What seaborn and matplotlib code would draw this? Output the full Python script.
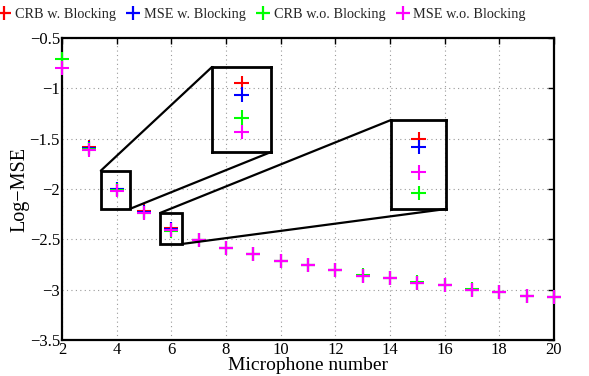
import numpy as np
import pandas as pd
import seaborn as sns
import matplotlib
matplotlib.use("Agg")
import matplotlib.pyplot as plt
from matplotlib.patches import Rectangle, ConnectionPatch
from matplotlib.ticker import FuncFormatter

# ---- data ----
mics = [2, 3, 4, 5, 6, 7, 8, 9, 10, 11, 12, 13, 14, 15, 16, 17, 18, 19, 20]
crb_block = [np.nan, -1.585, -1.998, -2.222, -2.392, -2.502, -2.583, -2.643, -2.713, -2.752,
             -2.802, -2.860, -2.881, -2.930, -2.951, -2.999, -3.020, -3.060, -3.070]
mse_block = [np.nan, -1.592, -2.002, -2.228, -2.395, -2.504, -2.585, -2.645, -2.715, -2.754,
             -2.804, -2.862, -2.883, -2.932, -2.953, -3.001, -3.022, -3.062, -3.072]
crb_noblock = [-0.705, -1.600, -2.010, -2.236, -2.413, -2.508, -2.588, -2.648, -2.713, -2.756,
               -2.806, -2.853, -2.885, -2.923, -2.955, -2.993, -3.024, -3.064, -3.074]
mse_noblock = [-0.800, -1.615, -2.015, -2.242, -2.405, -2.510, -2.590, -2.650, -2.718, -2.758,
               -2.808, -2.864, -2.887, -2.935, -2.957, -3.003, -3.026, -3.066, -3.076]

series_names = ["CRB w. Blocking", "MSE w. Blocking", "CRB w.o. Blocking", "MSE w.o. Blocking"]
series_colors = ["#ff0000", "#0000ff", "#00ff00", "#ff00ff"]
yticks = [-3.5, -3, -2.5, -2, -1.5, -1, -0.5]
xticks = [2, 4, 6, 8, 10, 12, 14, 16, 18, 20]
xlabel = "Microphone number"
ylabel = "Log\u2212MSE"

zoom_mics = [4, 6]

# ---- frame ----
df = pd.DataFrame({
    "mics": mics * 4,
    "value": crb_block + mse_block + crb_noblock + mse_noblock,
    "series": sum([[n] * len(mics) for n in series_names], []),
}).dropna()

sns.set_theme(style="white")
plt.rcParams["font.family"] = ["Liberation Serif", "DejaVu Serif"]
plt.rcParams["axes.unicode_minus"] = True

W, H = 589, 376
fig = plt.figure(figsize=(W / 100, H / 100), dpi=100)
fig.patch.set_facecolor("white")


def px_axes(l, t, r, b):
    return [l / W, (H - b) / H, (r - l) / W, (b - t) / H]


ax = fig.add_axes(px_axes(62, 38, 554, 340))
palette = dict(zip(series_names, series_colors))

sns.scatterplot(data=df, x="mics", y="value", hue="series", hue_order=series_names,
                palette=palette, marker="+", s=100, linewidth=1.5, ax=ax, legend=False,
                zorder=3)
for coll in ax.collections:
    coll.set_clip_on(False)

ax.set_xlim(2, 20)
ax.set_ylim(-3.5, -0.5)
ax.set_xticks(xticks)
ax.set_yticks(yticks)
fmt = FuncFormatter(lambda v, p: ("%g" % v).replace("-", "\u2212"))
ax.yaxis.set_major_formatter(fmt)
ax.xaxis.set_major_formatter(FuncFormatter(lambda v, p: "%g" % v))
ax.tick_params(direction="in", length=4, width=1, top=True, right=True,
               labelsize=12, colors="black", pad=1.5)
ax.grid(True, linestyle=(0, (1, 3)), color="#999999", linewidth=0.8)
for sp in ax.spines.values():
    sp.set_color("black")
    sp.set_linewidth(1.6)
ax.set_xlabel(xlabel, fontsize=14, color="black", labelpad=-0.5)
ax.set_ylabel(ylabel, fontsize=14.5, color="black", labelpad=0)

# legend
handles = [plt.Line2D([], [], linestyle="none", marker="+", markersize=10,
                      markeredgewidth=1.6, color=c) for c in series_colors]
fig.legend(handles, series_names, loc="center left", bbox_to_anchor=(-0.006, 1 - 14 / H),
           ncol=4, frameon=False, fontsize=10.3, handletextpad=0.2,
           columnspacing=0.65, handlelength=1.1, borderaxespad=0, borderpad=0)

# ---- insets ----
inset_px = [(212, 67, 271, 152), (391, 120, 446, 209)]
box_data = [((3.42, -2.198), (4.48, -1.818)), ((5.59, -2.546), (6.39, -2.238))]
pads = [(0.188, 0.235), (0.213, 0.180)]
all_series = [crb_block, mse_block, crb_noblock, mse_noblock]

for m, ipx, (lo, hi), (ptop, pbot) in zip(zoom_mics, inset_px, box_data, pads):
    i = mics.index(m)
    vals = [s[i] for s in all_series]
    iax = fig.add_axes(px_axes(*ipx))
    iax.patch.set_alpha(0)
    sub = df[df["mics"] == m]
    sns.scatterplot(data=sub, x="mics", y="value", hue="series", hue_order=series_names,
                    palette=palette, marker="+", s=105, linewidth=1.5, ax=iax, legend=False)
    vmin, vmax = min(vals), max(vals)
    rng = (vmax - vmin) / (1 - ptop - pbot)
    iax.set_ylim(vmin - pbot * rng, vmax + ptop * rng)
    iax.set_xlim(m - 0.1, m + 0.1)
    iax.set_xticks([])
    iax.set_yticks([])
    iax.set_xlabel("")
    iax.set_ylabel("")
    for sp in iax.spines.values():
        sp.set_color("black")
        sp.set_linewidth(2)
    # box in main axes
    ax.add_patch(Rectangle(lo, hi[0] - lo[0], hi[1] - lo[1], fill=False,
                           edgecolor="black", linewidth=2, zorder=4))
    c1 = ConnectionPatch(xyA=(lo[0], hi[1]), coordsA=ax.transData,
                         xyB=(0, 1), coordsB=iax.transAxes, color="black", linewidth=1.6)
    c2 = ConnectionPatch(xyA=(hi[0], lo[1]), coordsA=ax.transData,
                         xyB=(1, 0), coordsB=iax.transAxes, color="black", linewidth=1.6)
    fig.add_artist(c1)
    fig.add_artist(c2)

fig.savefig("out.png", dpi=100, facecolor="white")
